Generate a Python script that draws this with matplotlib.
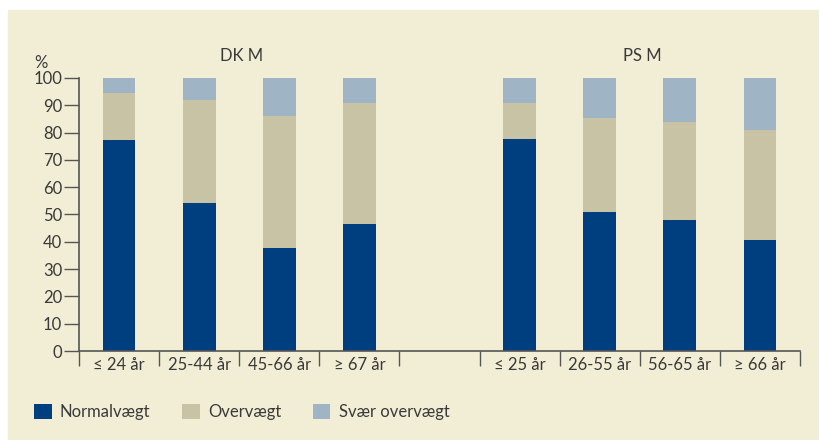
import matplotlib
matplotlib.use('Agg')
import matplotlib.pyplot as plt
from matplotlib.patches import Rectangle

categories = ['≤ 24 år', '25-44 år', '45-66 år', '≥ 67 år', '',
              '≤ 25 år', '26-55 år', '56-65 år', '≥ 66 år']
normal = [77.3, 54.2, 37.7, 46.5, 0, 77.7, 50.9, 48.0, 40.7]
over = [17.2, 37.7, 48.4, 44.3, 0, 13.1, 34.4, 35.9, 40.3]
severe = [5.5, 8.1, 13.9, 9.2, 0, 9.2, 14.7, 16.1, 19.0]
series_names = ['Normalvægt', 'Overvægt', 'Svær overvægt']
group_titles = ['DK M', 'PS M']

bg = '#f2eed5'
txt = '#3a3a3a'
axcol = '#555555'
colors = ['#003f7f', '#c8c3a4', '#9fb5c5']

plt.rcParams['font.family'] = ['Lato', 'DejaVu Sans']

fig = plt.figure(figsize=(8.19, 4.40), dpi=100)
fig.patch.set_facecolor('white')
fig.patches.append(Rectangle((8 / 819, 0), 1, 1 - 10 / 440,
                             transform=fig.transFigure, color=bg, zorder=-10))

ax = fig.add_axes([79 / 819, 89 / 440, 721 / 819, 273 / 440])
ax.set_facecolor('none')

x = [i + 0.5 for i in range(len(categories))]
keep = [i for i, c in enumerate(categories) if c]
xs = [x[i] for i in keep]
n = [normal[i] for i in keep]
o = [over[i] for i in keep]
s = [severe[i] for i in keep]
b2 = [a + b for a, b in zip(n, o)]
h1 = ax.bar(xs, n, width=0.41, color=colors[0], label=series_names[0])
h2 = ax.bar(xs, o, bottom=n, width=0.41, color=colors[1], label=series_names[1])
h3 = ax.bar(xs, s, bottom=b2, width=0.41, color=colors[2], label=series_names[2])

ax.set_xlim(0, len(categories))
ax.set_ylim(0, 100)
ax.set_yticks(range(0, 101, 10))
ax.set_xticks(range(len(categories) + 1))
ax.set_xticklabels([])
ax.set_xticks(x, minor=True)
ax.set_xticklabels(categories, minor=True)
ax.tick_params(axis='x', which='major', length=11, width=1, color=axcol)
ax.tick_params(axis='x', which='minor', length=0, pad=4, labelsize=12, labelcolor=txt)
ax.tick_params(axis='y', length=11, width=1, color=axcol, labelsize=12,
               labelcolor=txt, pad=1)
for side in ['top', 'right']:
    ax.spines[side].set_visible(False)
for side in ['left', 'bottom']:
    ax.spines[side].set_color(axcol)
    ax.spines[side].set_linewidth(1.2)

ax.text(-0.47, 102.5, '%', fontsize=12, color=txt, ha='center', va='bottom')
ax.text(2.03, 105, group_titles[0], fontsize=12, color=txt, ha='center', va='bottom')
ax.text(7.03, 105, group_titles[1], fontsize=12, color=txt, ha='center', va='bottom')

leg_handles = [h1, h2, h3]
fig.legend(leg_handles, series_names, loc='center left',
           bbox_to_anchor=(19 / 819, 1 - 412 / 440), ncol=3, frameon=False,
           fontsize=12, labelcolor=txt, handlelength=1.05, handleheight=1.05,
           handletextpad=0.5, columnspacing=1.9)

fig.savefig('out.png', dpi=100, facecolor=fig.get_facecolor())
